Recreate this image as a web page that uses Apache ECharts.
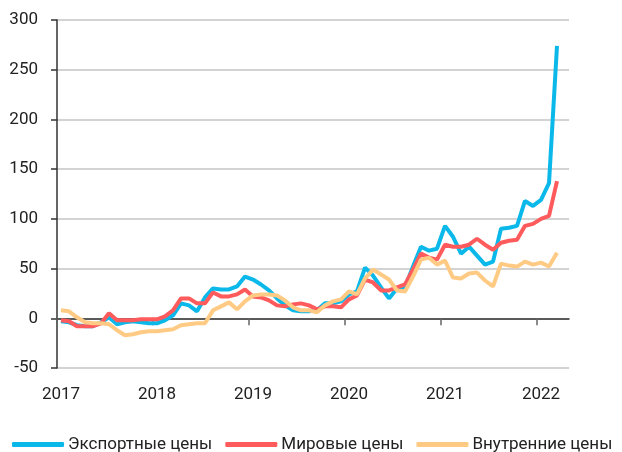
<!DOCTYPE html>
<html>
<head>
<meta charset="utf-8">
<script src="https://cdn.jsdelivr.net/npm/echarts@6/dist/echarts.min.js"></script>
<style>html,body{margin:0;padding:0;background:#fff}#c{width:622px;height:452px}</style>
</head>
<body>
<div id="c"></div>
<script>
// Months Jan 2017 .. Apr 2022 (last month has no data)
var months = [];
for (var y = 2017; y <= 2022; y++) {
  for (var m = 1; m <= 12; m++) {
    if (y === 2022 && m > 4) break;
    months.push(y + '-' + (m < 10 ? '0' + m : m));
  }
}
var yearTickPositions = [0, 12, 24, 36, 48, 60];
var seriesNames = ['Экспортные цены', 'Мировые цены', 'Внутренние цены'];
var exportPrices = [-3,-4,-7,-8,-8,-4,1,-6,-4,-3,-4,-5,
  -5,-2,3,15,13,7,21,30,29,29,32,42,
  39,34,28,20,13,8,7,7,8,15,15,17,
  24,27,51,43,31,20,30,31,52,72,68,70,
  93,82,65,72,63,54,57,90,91,93,118,113,
  119,136,274];
var worldPrices = [-2,-3,-8,-8,-8,-5,5,-2,-2,-2,-1,-1,
  -1,2,8,20,20,15,15,26,22,22,24,29,
  22,21,18,13,12,14,15,13,9,12,12,11,
  19,23,39,36,28,28,31,34,49,65,61,59,
  74,72,72,74,80,74,69,76,78,79,93,95,
  100,103,138];
var domesticPrices = [8,7,1,-4,-5,-5,-6,-12,-17,-16,-14,-13,
  -13,-12,-11,-7,-6,-5,-5,8,12,16,9,17,
  23,24,24,23,18,11,8,8,6,13,17,19,
  27,24,40,49,44,39,28,27,42,59,61,54,
  58,41,40,45,46,38,32,55,53,52,57,54,
  56,52,66];
var yTicks = {min: -50, max: 300, step: 50};

var colors = ['#0BB8EA', '#FF5A5C', '#FFCB84'];
var font = 'Roboto, "Noto Sans", sans-serif';
var chart = echarts.init(document.getElementById('c'), null, {renderer: 'canvas'});
function isYearStart(i) { return i % 12 === 0; }
chart.setOption({
  animation: false,
  color: colors,
  textStyle: {fontFamily: font},
  grid: {left: 57, right: 53, top: 20, bottom: 84, containLabel: false},
  legend: {
    bottom: -6, left: 7,
    itemWidth: 52, itemHeight: 5, itemGap: 13,
    icon: 'roundRect',
    textStyle: {fontSize: 17, color: '#222', fontFamily: font, padding: [0, 0, 0, -1]},
    data: seriesNames
  },
  xAxis: [{
    // zero line with year ticks
    type: 'value', min: 0, max: months.length,
    axisLine: {onZero: true, lineStyle: {color: '#333', width: 1.5}},
    axisTick: {show: true, length: 7, customValues: yearTickPositions, lineStyle: {color: '#666', width: 1.5}},
    axisLabel: {show: false},
    splitLine: {show: false}
  }, {
    type: 'category', data: months, boundaryGap: true, position: 'bottom',
    axisLine: {show: false, onZero: false},
    axisTick: {show: false},
    axisLabel: {
      show: true, margin: 18, fontSize: 17, color: '#222', fontFamily: font,
      interval: function (i) { return isYearStart(i); },
      formatter: function (v) { return v.slice(0, 4); }
    },
    splitLine: {show: false}
  }],
  yAxis: {
    type: 'value', min: yTicks.min, max: yTicks.max, interval: yTicks.step,
    axisLine: {show: true, lineStyle: {color: '#333', width: 1.5}},
    axisTick: {show: true, length: 6, lineStyle: {color: '#333', width: 1.5}},
    axisLabel: {margin: 19, fontSize: 17, color: '#222', fontFamily: font},
    splitLine: {show: true, lineStyle: {color: '#c4c4c4', width: 1.5}}
  },
  series: [
    {name: seriesNames[0], type: 'line', xAxisIndex: 1, data: exportPrices, showSymbol: false, lineStyle: {width: 4}},
    {name: seriesNames[1], type: 'line', xAxisIndex: 1, data: worldPrices, showSymbol: false, lineStyle: {width: 4}},
    {name: seriesNames[2], type: 'line', xAxisIndex: 1, data: domesticPrices, showSymbol: false, lineStyle: {width: 4}}
  ]
});
</script>
</body>
</html>
